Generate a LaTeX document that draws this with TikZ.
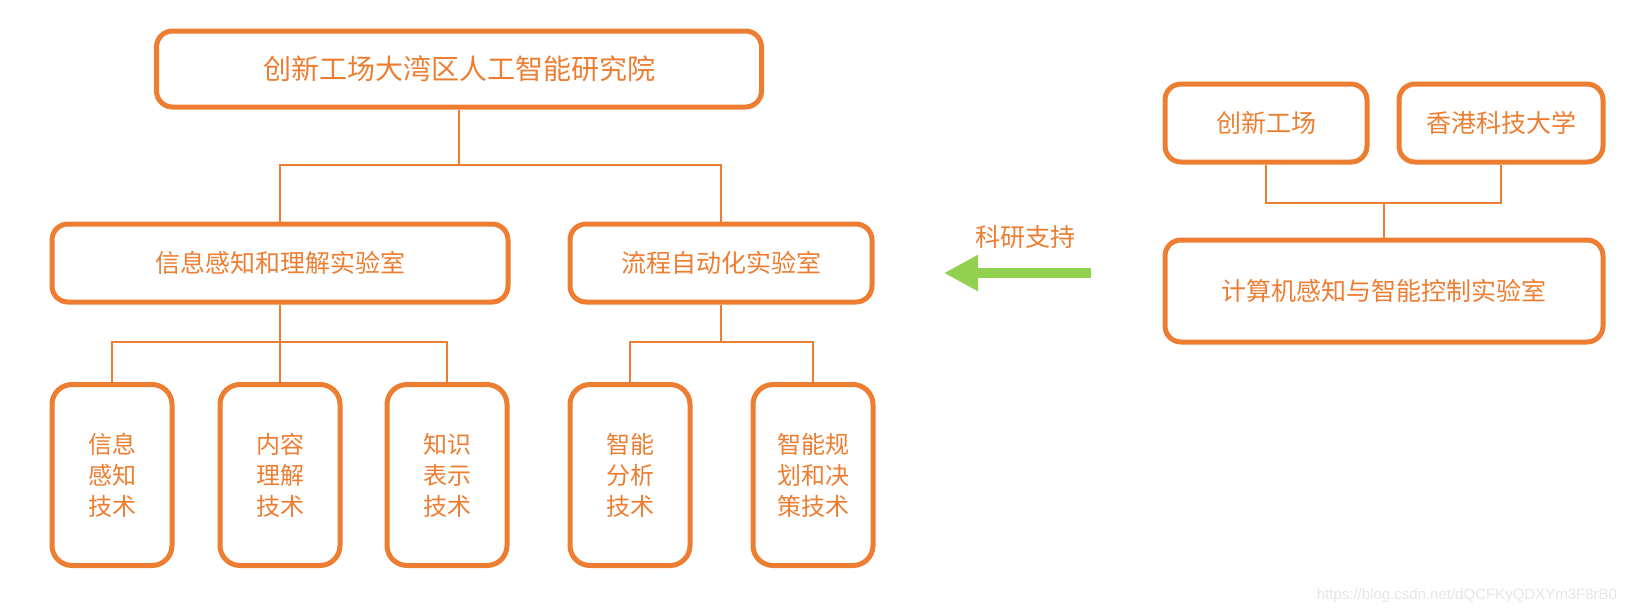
\documentclass[tikz,border=0pt]{standalone}
\usepackage{fontspec}
\setmainfont{Noto Sans CJK SC}
\newfontfamily\urlfont{Liberation Sans}
\usetikzlibrary{arrows.meta}
\definecolor{eOrange}{HTML}{ED7D31}
\definecolor{eGreen}{HTML}{92D050}
\definecolor{faded}{rgb}{.9,.9,.9}
\tikzset{box/.style={draw=eOrange, line width=2.5pt, rounded corners=8pt,
  text=eOrange, inner sep=0pt, font=\fontsize{12.5}{15}\selectfont}}
\tikzset{leaf/.style={box, rounded corners=10pt, minimum width=60pt, minimum height=90.5pt,
  align=center, font=\fontsize{12}{15.5}\selectfont}}
\tikzset{ln/.style={draw=eOrange, line width=.75pt}}
\tikzset{g/.style={draw=eGreen, line width=5pt,
  -{Triangle[length=17pt,width=17pt]}}}

\begin{document}
\begin{tikzpicture}[x=.5pt,y=-.5pt]
        \useasboundingbox (0,0) rectangle (1634,612);
        %% institute
        \node (top) at (459,69) [box, minimum width=302.5pt, minimum height=38pt,
          font=\fontsize{14}{16}\selectfont] {创新工场大湾区人工智能研究院};
        \node (lab1) at (280,263) [box, minimum width=228pt, minimum height=39pt] {信息感知和理解实验室};
        \node (lab2) at (721,263) [box, minimum width=151pt, minimum height=39pt] {流程自动化实验室};
        \node (t1) at (112,475) [leaf] {信息\\感知\\技术};
        \node (t2) at (280,475) [leaf] {内容\\理解\\技术};
        \node (t3) at (447,475) [leaf] {知识\\表示\\技术};
        \node (t4) at (630,475) [leaf] {智能\\分析\\技术};
        \node (t5) at (813,475) [leaf] {智能规\\划和决\\策技术};
        \coordinate (j0) at (459,165);
        \coordinate (j1) at (280,342);
        \coordinate (j2) at (721,342);
        \draw [ln] (top.south) -- (j0) -| (lab1.north);
        \draw [ln] (j0) -| (lab2.north);
        \draw [ln] (lab1.south) -- (j1) -| (t1.north);
        \draw [ln] (j1) -- (t2.north);
        \draw [ln] (j1) -| (t3.north);
        \draw [ln] (lab2.south) -- (j2) -| (t4.north);
        \draw [ln] (j2) -| (t5.north);
        %% partners
        \node (cx) at (1266,123) [box, minimum width=101pt, minimum height=39pt] {创新工场};
        \node (hk) at (1501,123) [box, minimum width=102pt, minimum height=39pt] {香港科技大学};
        \node (jl) at (1384,291) [box, minimum width=219pt, minimum height=51pt] {计算机感知与智能控制实验室};
        \coordinate (j3) at (1384,203);
        \draw [ln] (cx.south) |- (j3) -| (hk.south);
        \draw [ln] (j3) -- (jl.north);
        %% support arrow
        \coordinate (arrS) at (1091,273);
        \coordinate (arrE) at (944,273);
        \draw [g] (arrS) -- (arrE);
        \node (supp) at (1025,237) [text=eOrange, font=\fontsize{12.5}{15}\selectfont] {科研支持};
        \node (wm) [anchor=east, text=faded, font=\urlfont\fontsize{7.5}{9}\selectfont]
          at (1624,596) {https://blog.csdn.net/dQCFKyQDXYm3F8rB0};
    \end{tikzpicture}
\end{document}
